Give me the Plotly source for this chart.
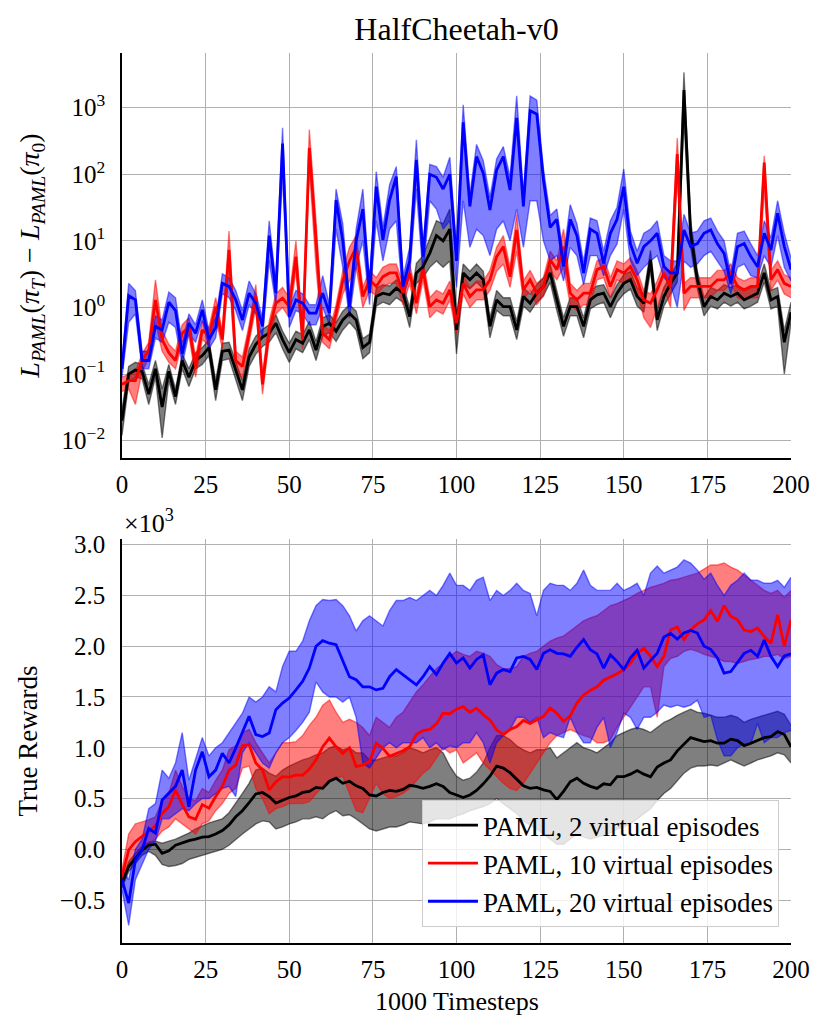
import plotly.graph_objects as go
from plotly.subplots import make_subplots

steps = list(range(0, 201, 2))
labels = ["PAML, 2 virtual episodes", "PAML, 10 virtual episodes", "PAML, 20 virtual episodes"]

# top panel: L_PAML(pi_T) - L_PAML(pi_0)  (read every 2nd step)
loss_2_mean = [0.02, 0.1, 0.115, 0.11, 0.05, 0.12, 0.032, 0.11, 0.046, 0.16,
               0.09, 0.16, 0.19, 0.25, 0.058, 0.22, 0.23, 0.115, 0.058, 0.18,
               0.28, 0.36, 0.41, 0.58, 0.33, 0.21, 0.33, 0.29, 0.46, 0.23,
               0.52, 0.58, 0.44, 0.65, 0.82, 0.65, 0.25, 0.3, 1.46, 1.64,
               1.55, 1.95, 1.64, 0.73, 3.3, 4.1, 6.5, 12, 10, 15,
               0.46, 3.3, 2.6, 3.3, 2.6, 0.52, 1.3, 1.03, 1.03, 0.46,
               1.46, 1.16, 1.64, 2.07, 3.3, 1.3, 0.52, 1.03, 1.03, 0.52,
               1.3, 1.55, 1.64, 1.03, 1.64, 2.3, 2.6, 1.46, 1.16, 5.2,
               0.65, 1.46, 2.3, 3.3, 1840, 13, 2.6, 1.03, 1.46, 1.3,
               1.64, 1.46, 1.64, 1.3, 1.46, 1.64, 3.3, 1.3, 1.46, 0.3,
               0.85]
loss_2_low = [0.012, 0.075, 0.09, 0.085, 0.035, 0.09, 0.011, 0.08, 0.035, 0.12,
              0.065, 0.12, 0.14, 0.19, 0.04, 0.16, 0.17, 0.08, 0.04, 0.13,
              0.2, 0.26, 0.3, 0.42, 0.24, 0.15, 0.24, 0.21, 0.33, 0.16,
              0.37, 0.42, 0.31, 0.46, 0.6, 0.46, 0.17, 0.21, 1.05, 1.2,
              1.1, 1.4, 1.2, 0.5, 2.3, 2.8, 4.0, 5.0, 4.0, 5.0,
              0.2, 2.3, 1.9, 2.4, 1.9, 0.35, 0.9, 0.75, 0.75, 0.33,
              1.05, 0.85, 1.2, 1.5, 2.4, 0.9, 0.37, 0.75, 0.75, 0.35,
              0.95, 1.1, 1.2, 0.7, 1.2, 1.6, 1.9, 1.05, 0.85, 3.6,
              0.45, 1.05, 1.6, 2.4, 700, 8, 1.9, 0.75, 1.05, 0.95,
              1.2, 1.05, 1.2, 0.95, 1.05, 1.2, 2.4, 0.95, 1.05, 0.1,
              0.6]
loss_2_high = [0.03, 0.13, 0.15, 0.14, 0.07, 0.16, 0.06, 0.14, 0.06, 0.2,
               0.12, 0.21, 0.25, 0.33, 0.08, 0.29, 0.3, 0.15, 0.08, 0.24,
               0.37, 0.47, 0.55, 0.78, 0.44, 0.29, 0.44, 0.39, 0.62, 0.31,
               0.7, 0.78, 0.6, 0.88, 1.1, 0.88, 0.34, 0.4, 1.95, 2.2,
               2.1, 2.6, 2.2, 1.0, 4.6, 6.0, 11, 20, 18, 30,
               0.7, 4.5, 3.5, 4.5, 3.5, 0.7, 1.8, 1.4, 1.4, 0.62,
               2.0, 1.6, 2.2, 2.8, 4.5, 1.8, 0.7, 1.4, 1.4, 0.7,
               1.8, 2.1, 2.2, 1.4, 2.2, 3.1, 3.5, 2.0, 1.6, 7.2,
               0.9, 2.0, 3.1, 4.5, 3400, 20, 3.5, 1.4, 2.0, 1.8,
               2.2, 2.0, 2.2, 1.8, 2.0, 2.2, 4.5, 1.8, 2.0, 0.45,
               1.2]

loss_10_mean = [0.07, 0.08, 0.08, 0.16, 0.23, 1.3, 0.33, 0.21, 0.16, 0.41,
                0.52, 0.13, 0.46, 0.37, 1.03, 0.33, 7.3, 0.16, 0.13, 0.4,
                1.5, 0.07, 0.46, 1.16, 1.38, 1.03, 5.8, 0.33, 250, 9,
                0.41, 0.33, 0.82, 2.5, 5, 8, 1.46, 2.6, 2.07, 2.9,
                3.3, 3.3, 1.64, 3.3, 1.16, 3.7, 1.03, 1.3, 1.16, 1.84,
                0.58, 2.3, 1.46, 1.84, 1.84, 2.6, 5.8, 8.2, 2.9, 14.6,
                1.84, 2.6, 1.64, 2.07, 5.2, 3.7, 8.2, 1.64, 1.3, 1.64,
                1.64, 3.7, 4.1, 2.07, 3.7, 3.3, 4.1, 2.6, 1.3, 1.16,
                1.84, 3.3, 2.0, 200, 1.64, 2.07, 2.07, 2.07, 2.07, 2.6,
                2.6, 3.3, 2.07, 1.84, 2.07, 2.07, 150, 2.6, 3.7, 2.3,
                2.07]
loss_10_low = [0.055, 0.06, 0.035, 0.11, 0.17, 0.6, 0.22, 0.15, 0.12, 0.3,
               0.38, 0.09, 0.33, 0.27, 0.7, 0.24, 3.5, 0.1, 0.09, 0.3,
               1.0, 0.05, 0.33, 0.8, 1.0, 0.7, 3.5, 0.24, 130, 4,
               0.3, 0.24, 0.6, 1.6, 2.5, 4, 1.0, 1.8, 1.5, 2.0,
               2.3, 2.3, 1.1, 2.3, 0.8, 2.6, 0.7, 0.9, 0.8, 1.3,
               0.4, 1.6, 1.0, 1.3, 1.3, 1.8, 3.5, 4.5, 2.0, 7,
               1.3, 1.8, 1.1, 1.5, 3.5, 2.6, 4, 1.1, 0.9, 1.1,
               1.1, 2.6, 2.8, 1.4, 2.6, 2.3, 2.8, 1.8, 0.7, 0.5,
               1.0, 2.0, 1.0, 90, 0.9, 1.4, 1.4, 1.4, 1.4, 1.8,
               1.8, 2.3, 1.4, 1.3, 1.4, 1.4, 60, 1.8, 2.6, 1.6,
               1.4]
loss_10_high = [0.09, 0.1, 0.11, 0.2, 0.3, 2.6, 0.45, 0.28, 0.22, 0.55,
                0.7, 0.18, 0.62, 0.5, 1.4, 0.45, 14, 0.22, 0.18, 0.55,
                2.2, 0.1, 0.62, 1.6, 2.0, 1.4, 10, 0.45, 470, 20,
                0.55, 0.45, 1.1, 3.5, 8, 12, 2.0, 3.6, 2.8, 4.0,
                4.5, 4.5, 2.3, 4.5, 1.6, 5.0, 1.4, 1.8, 1.6, 2.5,
                0.8, 3.1, 2.0, 2.5, 2.5, 3.6, 8, 12, 4.0, 25,
                2.5, 3.6, 2.3, 2.8, 7, 5, 15, 2.3, 1.8, 2.3,
                2.3, 5, 5.6, 2.8, 5, 4.5, 5.6, 3.6, 1.8, 1.6,
                2.5, 4.5, 3.0, 350, 2.3, 2.8, 2.8, 2.8, 2.8, 3.6,
                3.6, 4.5, 2.8, 2.5, 2.8, 2.8, 190, 3.6, 5, 3.1,
                2.8]

loss_20_mean = [0.12, 1.5, 1.3, 0.16, 0.16, 0.52, 0.46, 1.2, 0.9, 0.2,
                0.58, 0.41, 0.92, 0.33, 0.5, 2.3, 2.07, 1.3, 0.65, 1.64,
                1.16, 0.52, 12, 1.64, 290, 0.73, 1.3, 1.16, 0.82, 0.82,
                1.64, 0.82, 41, 10, 1.03, 10, 30, 1.64, 65, 10.3,
                41, 92, 2.07, 5, 164, 5.8, 100, 90, 60, 100,
                5, 600, 33, 184, 104, 29, 116, 184, 58, 700,
                33, 900, 800, 82, 16, 21, 4.1, 21, 12, 3.3,
                15, 13, 4.6, 13, 21, 65, 9, 4.6, 8.2, 10,
                13, 4.1, 3.3, 3.3, 14.6, 8.2, 9.1, 13, 14.6, 9,
                6.5, 2.3, 8.2, 9.1, 5.8, 4.1, 13, 7.3, 26, 8.2,
                3.7]
loss_20_low = [0.09, 0.6, 0.8, 0.12, 0.12, 0.35, 0.3, 0.6, 0.5, 0.14,
               0.4, 0.3, 0.65, 0.24, 0.35, 1.6, 1.4, 0.9, 0.45, 1.1,
               0.8, 0.35, 5, 1.1, 100, 0.5, 0.9, 0.8, 0.55, 0.55,
               1.0, 0.55, 15, 4, 0.7, 4, 10, 1.1, 20, 5,
               15, 20, 1.4, 3, 60, 3, 40, 30, 15, 20,
               2, 40, 8, 15, 12, 6, 15, 20, 10, 30,
               8, 40, 40, 10, 5, 6, 2.5, 8, 6, 2.2,
               6, 6, 3, 6, 9, 30, 5, 3, 4, 5,
               6, 2.8, 2.2, 1, 5, 4, 4.5, 6, 7, 5,
               3.5, 1.6, 4, 4.5, 3, 2.8, 6, 4, 12, 4,
               2.5]
loss_20_high = [0.15, 2.3, 1.8, 0.22, 0.22, 0.75, 0.65, 1.7, 1.4, 0.28,
                0.8, 0.55, 1.3, 0.45, 0.7, 3.2, 2.8, 1.8, 0.9, 2.5,
                1.6, 0.7, 20, 2.3, 500, 1.0, 1.8, 1.6, 1.1, 1.1,
                3.0, 1.1, 60, 18, 1.4, 15, 60, 2.3, 110, 16,
                70, 130, 2.8, 8, 330, 8, 140, 130, 90, 180,
                8, 1100, 50, 280, 160, 45, 170, 260, 90, 1500,
                50, 1500, 1300, 120, 24, 30, 6, 35, 18, 4.8,
                22, 20, 7, 20, 32, 120, 14, 7, 13, 15,
                20, 6, 5, 5, 25, 13, 14, 20, 22, 14,
                10, 3.2, 13, 14, 9, 6, 20, 11, 40, 13,
                5.5]

# bottom panel: true rewards, in units of 10^3
reward_2_mean = [-0.335, -0.17, -0.09, -0.01, 0.04, 0.05, -0.04, -0.015, 0.04, 0.065,
                 0.085, 0.1, 0.12, 0.125, 0.15, 0.185, 0.24, 0.32, 0.38, 0.46,
                 0.545, 0.56, 0.52, 0.455, 0.485, 0.51, 0.525, 0.56, 0.57, 0.61,
                 0.6, 0.67, 0.7, 0.65, 0.67, 0.625, 0.6, 0.535, 0.525, 0.56,
                 0.58, 0.57, 0.59, 0.63, 0.62, 0.6, 0.62, 0.645, 0.62, 0.56,
                 0.535, 0.51, 0.535, 0.58, 0.645, 0.72, 0.82, 0.8, 0.755, 0.69,
                 0.625, 0.6, 0.61, 0.585, 0.57, 0.49, 0.57, 0.665, 0.7, 0.65,
                 0.62, 0.6, 0.645, 0.635, 0.715, 0.715, 0.74, 0.775, 0.74, 0.715,
                 0.81, 0.85, 0.88, 0.97, 1.04, 1.1, 1.08, 1.06, 1.07, 1.045,
                 1.045, 1.085, 1.07, 1.02, 1.045, 1.07, 1.1, 1.11, 1.16, 1.13,
                 1.01]
reward_2_low = [-0.38, -0.22, -0.14, -0.06, -0.02, -0.06, -0.15, -0.17, -0.16, -0.14,
                -0.1, -0.08, -0.06, -0.04, -0.02, 0.0, 0.04, 0.1, 0.15, 0.2,
                0.25, 0.28, 0.27, 0.2, 0.22, 0.25, 0.27, 0.3, 0.3, 0.32,
                0.3, 0.35, 0.38, 0.33, 0.34, 0.3, 0.25, 0.2, 0.18, 0.2,
                0.22, 0.22, 0.24, 0.27, 0.26, 0.25, 0.27, 0.3, 0.3, 0.3,
                0.33, 0.35, 0.38, 0.4, 0.42, 0.45, 0.5, 0.45, 0.4, 0.35,
                0.28, 0.24, 0.2, 0.15, 0.1, 0.05, 0.05, 0.1, 0.15, 0.12,
                0.1, 0.12, 0.14, 0.16, 0.2, 0.22, 0.25, 0.3, 0.35, 0.4,
                0.48, 0.55, 0.6, 0.68, 0.75, 0.8, 0.82, 0.82, 0.83, 0.82,
                0.85, 0.88, 0.85, 0.82, 0.85, 0.88, 0.9, 0.92, 0.95, 0.93,
                0.85]
reward_2_high = [-0.3, -0.12, -0.04, 0.03, 0.07, 0.08, 0.06, 0.08, 0.1, 0.13,
                 0.16, 0.2, 0.23, 0.26, 0.28, 0.3, 0.36, 0.45, 0.55, 0.65,
                 0.78, 0.8, 0.75, 0.72, 0.78, 0.82, 0.85, 0.88, 0.9, 0.93,
                 0.95, 1.0, 1.02, 0.98, 1.0, 0.95, 0.95, 0.88, 0.88, 0.9,
                 0.92, 0.92, 0.95, 1.0, 0.98, 0.95, 0.98, 1.0, 0.95, 0.82,
                 0.72, 0.68, 0.7, 0.76, 0.85, 1.0, 1.12, 1.12, 1.08, 1.02,
                 0.98, 0.95, 0.98, 0.98, 1.0, 0.9, 0.95, 1.0, 1.05, 1.0,
                 0.98, 0.95, 1.0, 1.05, 1.12, 1.15, 1.18, 1.2, 1.18, 1.15,
                 1.2, 1.25, 1.28, 1.32, 1.35, 1.38, 1.35, 1.34, 1.32, 1.3,
                 1.3, 1.32, 1.3, 1.25, 1.28, 1.3, 1.32, 1.34, 1.36, 1.33,
                 1.22]

reward_10_mean = [-0.27, -0.005, 0.075, 0.125, 0.175, 0.23, 0.355, 0.42, 0.585, 0.44,
                  0.32, 0.295, 0.44, 0.405, 0.52, 0.62, 0.78, 0.83, 1.02, 1.03,
                  0.85, 0.78, 0.585, 0.665, 0.715, 0.71, 0.73, 0.73, 0.79, 0.88,
                  1.01, 1.095, 1.01, 0.945, 1.0, 0.815, 0.83, 0.865, 1.045, 0.995,
                  0.915, 0.945, 0.97, 1.01, 1.13, 1.17, 1.18, 1.235, 1.34, 1.335,
                  1.38, 1.405, 1.35, 1.39, 1.325, 1.275, 1.175, 1.13, 1.18, 1.21,
                  1.27, 1.24, 1.275, 1.31, 1.39, 1.34, 1.26, 1.315, 1.44, 1.52,
                  1.565, 1.6, 1.665, 1.695, 1.73, 1.77, 1.835, 1.93, 1.98, 1.9,
                  1.8, 1.9, 2.16, 2.19, 2.065, 2.16, 2.22, 2.26, 2.35, 2.245,
                  2.4, 2.295, 2.26, 2.16, 2.145, 2.18, 2.095, 2.03, 2.31, 2.0,
                  2.26]
reward_10_low = [-0.33, -0.15, -0.05, 0.0, 0.05, 0.1, 0.18, 0.22, 0.3, 0.25,
                 0.2, 0.15, 0.25, 0.28, 0.38, 0.45, 0.55, 0.6, 0.8, 0.82,
                 0.6, 0.5, 0.35, 0.4, 0.42, 0.45, 0.45, 0.45, 0.47, 0.55,
                 0.62, 0.68, 0.7, 0.72, 0.55, 0.38, 0.36, 0.5, 0.65, 0.55,
                 0.5, 0.52, 0.55, 0.6, 0.68, 0.75, 0.8, 0.9, 1.0, 0.95,
                 0.98, 0.85, 0.9, 0.95, 0.85, 0.78, 0.72, 0.65, 0.6, 0.58,
                 0.65, 0.75, 0.85, 0.95, 1.05, 1.12, 1.15, 1.18, 1.15, 1.12,
                 1.1, 1.05, 1.05, 1.08, 1.2, 1.3, 1.4, 1.5, 1.6, 1.6,
                 1.3, 1.8, 1.88, 1.9, 1.95, 1.97, 1.95, 1.92, 1.9, 1.88,
                 1.85, 1.85, 1.83, 1.85, 1.87, 1.88, 1.9, 1.9, 1.92, 1.88,
                 1.9]
reward_10_high = [-0.2, 0.15, 0.25, 0.27, 0.29, 0.32, 0.48, 0.55, 0.78, 0.62,
                  0.5, 0.48, 0.6, 0.56, 0.68, 0.78, 0.98, 1.02, 1.15, 1.18,
                  1.05, 0.95, 0.85, 0.95, 1.05, 1.05, 1.06, 1.12, 1.22, 1.3,
                  1.42, 1.47, 1.35, 1.25, 1.28, 1.25, 1.2, 1.12, 1.3, 1.25,
                  1.2, 1.3, 1.35, 1.45, 1.55, 1.62, 1.7, 1.78, 1.83, 1.9,
                  1.95, 1.92, 1.9, 1.95, 1.93, 1.9, 1.82, 1.78, 1.78, 1.8,
                  1.9, 1.93, 1.95, 2.0, 2.05, 2.08, 2.1, 2.15, 2.2, 2.25,
                  2.28, 2.3, 2.35, 2.4, 2.42, 2.45, 2.48, 2.52, 2.55, 2.58,
                  2.6, 2.62, 2.65, 2.66, 2.68, 2.7, 2.72, 2.76, 2.8, 2.8,
                  2.82, 2.78, 2.75, 2.7, 2.65, 2.6, 2.55, 2.52, 2.55, 2.48,
                  2.55]

reward_20_mean = [-0.3, -0.53, -0.105, -0.005, 0.205, 0.16, 0.485, 0.55, 0.62, 0.78,
                  0.42, 0.78, 0.96, 0.715, 0.78, 0.945, 0.85, 0.995, 1.145, 1.31,
                  1.13, 1.11, 1.145, 1.375, 1.44, 1.49, 1.57, 1.655, 1.785, 2.0,
                  2.055, 2.03, 2.015, 1.85, 1.7, 1.67, 1.6, 1.6, 1.57, 1.585,
                  1.7, 1.77, 1.72, 1.67, 1.62, 1.7, 1.8, 1.72, 1.835, 1.93,
                  1.835, 1.885, 1.785, 1.87, 1.915, 1.62, 1.735, 1.77, 1.75, 1.885,
                  1.9, 1.87, 1.77, 1.93, 1.965, 1.93, 1.925, 1.9, 1.99, 2.065,
                  1.965, 1.925, 1.785, 1.915, 1.85, 1.77, 1.885, 1.96, 1.785, 1.86,
                  1.93, 2.09, 2.125, 2.07, 2.13, 2.155, 2.13, 2.0, 1.97, 1.885,
                  1.735, 1.75, 1.835, 1.93, 1.96, 1.9, 2.06, 1.9, 1.8, 1.905,
                  1.925]
reward_20_low = [-0.4, -0.75, -0.3, -0.15, 0.0, 0.08, 0.3, 0.3, 0.35, 0.4,
                 0.38, 0.45, 0.5, 0.5, 0.55, 0.6, 0.62, 0.52, 0.95, 1.05,
                 0.95, 0.85, 0.8, 0.95, 1.05, 1.1, 1.17, 1.25, 1.35, 1.65,
                 1.55, 1.5, 1.5, 1.45, 1.5, 1.3, 0.85, 0.8, 0.9, 1.0,
                 1.05, 1.0, 1.05, 1.05, 1.05, 1.1, 1.0, 1.05, 0.98, 1.02,
                 1.0, 1.05, 1.05, 1.15, 1.05, 0.85, 1.05, 1.12, 1.18, 1.3,
                 1.3, 1.25, 1.3, 1.1, 1.15, 1.12, 1.1, 1.3, 1.15, 1.05,
                 1.05, 1.2, 1.3, 1.0, 1.15, 1.34, 1.3, 1.18, 1.3, 1.3,
                 1.35, 1.42, 1.4, 1.42, 1.4, 1.42, 1.47, 1.3, 1.32, 1.08,
                 0.92, 0.92, 1.0, 1.04, 1.04, 1.24, 1.05, 1.1, 1.1, 1.15,
                 1.17]
reward_20_high = [-0.2, -0.3, 0.0, 0.1, 0.4, 0.45, 0.78, 0.7, 0.85, 1.15,
                  0.68, 0.9, 1.1, 0.92, 1.0, 1.05, 1.15, 1.25, 1.34, 1.5,
                  1.45, 1.5, 1.6, 1.55, 1.8, 1.95, 1.95, 2.05, 2.25, 2.4,
                  2.46, 2.45, 2.46, 2.4, 2.3, 2.15, 2.25, 2.3, 2.25, 2.2,
                  2.35, 2.45, 2.45, 2.48, 2.45, 2.5, 2.55, 2.5, 2.6, 2.72,
                  2.6, 2.6, 2.55, 2.65, 2.68, 2.45, 2.55, 2.5, 2.55, 2.62,
                  2.55, 2.52, 2.3, 2.55, 2.62, 2.6, 2.6, 2.55, 2.62, 2.75,
                  2.6, 2.55, 2.55, 2.55, 2.62, 2.55, 2.58, 2.62, 2.5, 2.72,
                  2.79, 2.72, 2.75, 2.78, 2.85, 2.82, 2.75, 2.66, 2.72, 2.6,
                  2.5, 2.6, 2.65, 2.72, 2.65, 2.65, 2.62, 2.62, 2.65, 2.58,
                  2.68]

x_ticks = [0, 25, 50, 75, 100, 125, 150, 175, 200]
loss_ticks = [0.01, 0.1, 1, 10, 100, 1000]
loss_tick_text = ["10<sup>−2</sup>", "10<sup>−1</sup>", "10<sup>0</sup>",
                  "10<sup>1</sup>", "10<sup>2</sup>", "10<sup>3</sup>"]
reward_ticks = [-0.5, 0.0, 0.5, 1.0, 1.5, 2.0, 2.5, 3.0]
reward_tick_text = ["−0.5", "0.0", "0.5", "1.0", "1.5", "2.0", "2.5", "3.0"]

colors = ["0,0,0", "255,0,0", "0,0,255"]
FONT = "Liberation Serif"

fig = make_subplots(rows=2, cols=1)

panels = [
    (1, [(loss_2_low, loss_2_high), (loss_10_low, loss_10_high), (loss_20_low, loss_20_high)],
     [loss_2_mean, loss_10_mean, loss_20_mean]),
    (2, [(reward_2_low, reward_2_high), (reward_10_low, reward_10_high), (reward_20_low, reward_20_high)],
     [reward_2_mean, reward_10_mean, reward_20_mean]),
]

for row, bands, means in panels:
    # shaded bands first, then the mean curves on top
    for (low, high), rgb in zip(bands, colors):
        edge = dict(color=f"rgba({rgb},0.5)", width=1.4)
        fig.add_trace(go.Scatter(x=steps, y=low, mode="lines", line=edge,
                                 showlegend=False, hoverinfo="skip"), row=row, col=1)
        fig.add_trace(go.Scatter(x=steps, y=high, mode="lines", line=edge,
                                 fill="tonexty", fillcolor=f"rgba({rgb},0.5)",
                                 showlegend=False, hoverinfo="skip"), row=row, col=1)
    for mean, rgb, name in zip(means, colors, labels):
        fig.add_trace(go.Scatter(x=steps, y=mean, mode="lines", name=name,
                                 line=dict(color=f"rgb({rgb})", width=2.8),
                                 showlegend=(row == 2)), row=row, col=1)

axis_style = dict(showline=True, linecolor="black", linewidth=1.6, mirror=False,
                  ticks="", showgrid=True, gridcolor="#b0b0b0", gridwidth=1.3,
                  zeroline=False, tickfont=dict(family=FONT, size=25, color="black"))

fig.update_xaxes(range=[0, 200], tickvals=x_ticks, ticklabelstandoff=3, **axis_style)
fig.update_yaxes(**axis_style)
fig.update_yaxes(type="log", range=[-2.26, 3.82], tickvals=loss_ticks,
                 ticktext=loss_tick_text, ticklabelstandoff=10, domain=[0.5449, 1.0],
                 title=dict(text="<i>L</i><sub><i>PAML</i></sub>(<i>π</i><sub><i>T</i></sub>) − "
                                 "<i>L</i><sub><i>PAML</i></sub>(<i>π</i><sub>0</sub>)",
                            font=dict(family=FONT, size=28), standoff=14),
                 row=1, col=1)
fig.update_yaxes(range=[-0.923, 3.056], tickvals=reward_ticks,
                 ticktext=reward_tick_text, ticklabelstandoff=10, domain=[0.0, 0.4539],
                 title=dict(text="True Rewards", font=dict(family=FONT, size=27), standoff=14),
                 row=2, col=1)

# page body adds an 8 px offset, so the figure is drawn 16 px smaller
fig.update_layout(
    width=814, height=1018,
    margin=dict(l=114, r=28, t=45, b=83),
    plot_bgcolor="white", paper_bgcolor="white",
    font=dict(family=FONT, size=25, color="black"),
    title=dict(text="HalfCheetah-v0", x=0.5, xref="paper", xanchor="center",
               y=1 - 21 / 1018, yref="container", yanchor="middle",
               font=dict(family=FONT, size=32, color="black")),
    legend=dict(x=0.982, y=0.018, xanchor="right", yanchor="bottom", traceorder="normal",
                bgcolor="rgba(255,255,255,0.8)", bordercolor="#cccccc", borderwidth=1,
                font=dict(family=FONT, size=27), itemwidth=50, tracegroupgap=0),
    annotations=[
        dict(text="1000 Timesteps", x=0.5, y=-0.066, xref="paper", yref="paper",
             xanchor="center", yanchor="middle", showarrow=False,
             font=dict(family=FONT, size=26)),
        dict(text="×10<sup>3</sup>", x=0.0, y=0.474, xref="paper", yref="paper",
             xanchor="left", yanchor="middle", showarrow=False,
             font=dict(family=FONT, size=26)),
    ],
)

fig.write_html("out.html")
